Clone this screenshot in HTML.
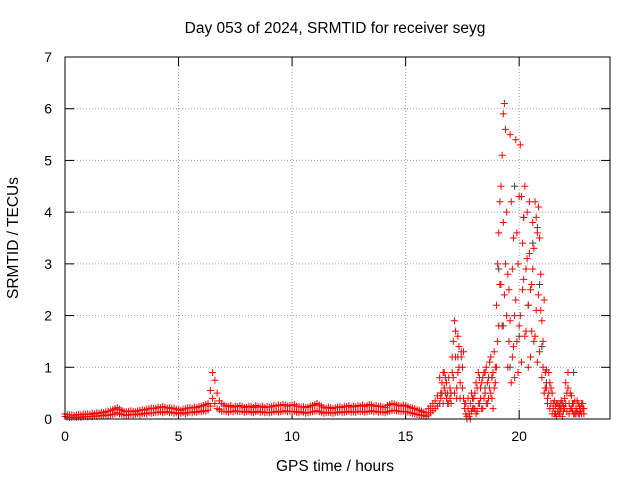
<!DOCTYPE html>
<html><head><meta charset="utf-8"><style>
body{margin:0;background:#fff;}
svg{display:block;font-family:"Liberation Sans",sans-serif;}
</style></head><body>
<svg id="c" width="640" height="480">
<rect x="0" y="0" width="640" height="480" fill="#fff"/>
<text x="335" y="33" text-anchor="middle" font-size="15.5">Day 053 of 2024, SRMTID for receiver seyg</text>
<text x="335" y="471" text-anchor="middle" font-size="15.5">GPS time / hours</text>
<text transform="translate(18,238) rotate(-90)" text-anchor="middle" font-size="15.5">SRMTID / TECUs</text>
<g id="grid"></g>
<g id="ticks"></g>
<g id="gray"></g>
<g id="red"></g>
<rect x="65" y="57" width="545" height="362" fill="none" stroke="#000" stroke-width="1"/>
</svg>
<script>
const xTicks=[0,5,10,15,20];
const yTicks=[0,1,2,3,4,5,6,7];
const baseT=[
0,0.1,0.2,0.3,0.4,0.5,0.6,0.7,0.8,0.9,
1,1.1,1.2,1.3,1.4,1.5,1.6,1.7,1.8,1.9,
2,2.1,2.2,2.3,2.4,2.5,2.6,2.7,2.8,2.9,
3,3.1,3.2,3.3,3.4,3.5,3.6,3.7,3.8,3.9,
4,4.1,4.2,4.3,4.4,4.5,4.6,4.7,4.8,4.9,
5,5.1,5.2,5.3,5.4,5.5,5.6,5.7,5.8,5.9,
6,6.1,6.2,6.3,6.4,6.5,6.6,6.7,6.8,6.9,
7,7.1,7.2,7.3,7.4,7.5,7.6,7.7,7.8,7.9,
8,8.1,8.2,8.3,8.4,8.5,8.6,8.7,8.8,8.9,
9,9.1,9.2,9.3,9.4,9.5,9.6,9.7,9.8,9.9,
10,10.1,10.2,10.3,10.4,10.5,10.6,10.7,10.8,10.9,
11,11.1,11.2,11.3,11.4,11.5,11.6,11.7,11.8,11.9,
12,12.1,12.2,12.3,12.4,12.5,12.6,12.7,12.8,12.9,
13,13.1,13.2,13.3,13.4,13.5,13.6,13.7,13.8,13.9,
14,14.1,14.2,14.3,14.4,14.5,14.6,14.7,14.8,14.9,
15,15.1,15.2,15.3,15.4,15.5,15.6,15.7,15.8,15.9,
16,16.1,16.2,16.3,16.4];
const baseLo=[
0.05,0.04,0.03,0.03,0.04,0.03,0.04,0.03,0.04,0.05,
0.04,0.05,0.04,0.06,0.05,0.06,0.07,0.06,0.08,0.07,
0.08,0.09,0.1,0.12,0.1,0.09,0.08,0.07,0.08,0.09,
0.08,0.09,0.1,0.08,0.1,0.11,0.1,0.12,0.11,0.12,
0.12,0.13,0.14,0.12,0.13,0.14,0.12,0.13,0.11,0.12,
0.1,0.11,0.12,0.1,0.12,0.13,0.12,0.14,0.13,0.15,
0.14,0.16,0.15,0.17,0.25,0.4,0.3,0.2,0.18,0.15,
0.15,0.14,0.13,0.15,0.14,0.16,0.15,0.14,0.15,0.13,
0.14,0.15,0.13,0.12,0.14,0.15,0.13,0.14,0.12,0.13,
0.12,0.13,0.14,0.15,0.13,0.14,0.15,0.16,0.14,0.15,
0.14,0.15,0.13,0.12,0.14,0.13,0.11,0.12,0.13,0.14,
0.15,0.16,0.14,0.13,0.11,0.12,0.13,0.12,0.11,0.12,
0.13,0.14,0.12,0.13,0.14,0.15,0.13,0.14,0.13,0.15,
0.14,0.15,0.13,0.14,0.15,0.16,0.14,0.15,0.13,0.14,
0.13,0.12,0.14,0.15,0.16,0.17,0.16,0.15,0.14,0.15,
0.14,0.13,0.12,0.11,0.1,0.09,0.08,0.07,0.06,0.05,
0.08,0.12,0.16,0.2,0.25];
const baseHi=[
0.1,0.09,0.08,0.08,0.07,0.08,0.09,0.08,0.1,0.09,
0.1,0.09,0.11,0.1,0.12,0.11,0.13,0.12,0.14,0.15,
0.16,0.18,0.2,0.22,0.19,0.17,0.15,0.14,0.15,0.16,
0.15,0.14,0.16,0.17,0.18,0.17,0.19,0.2,0.21,0.2,
0.21,0.23,0.22,0.24,0.23,0.21,0.22,0.2,0.21,0.19,
0.18,0.17,0.19,0.2,0.21,0.22,0.21,0.23,0.22,0.24,
0.25,0.26,0.28,0.3,0.55,0.9,0.75,0.5,0.35,0.3,
0.27,0.25,0.24,0.26,0.23,0.25,0.24,0.26,0.25,0.22,
0.23,0.25,0.24,0.22,0.26,0.24,0.23,0.25,0.22,0.24,
0.23,0.24,0.26,0.25,0.27,0.26,0.28,0.27,0.25,0.26,
0.27,0.28,0.25,0.24,0.23,0.24,0.22,0.23,0.25,0.26,
0.28,0.3,0.27,0.25,0.22,0.21,0.23,0.22,0.2,0.22,
0.23,0.24,0.22,0.25,0.24,0.26,0.23,0.25,0.24,0.26,
0.25,0.27,0.24,0.26,0.28,0.27,0.25,0.26,0.24,0.25,
0.23,0.22,0.26,0.28,0.3,0.29,0.27,0.26,0.25,0.27,
0.26,0.24,0.22,0.21,0.2,0.18,0.17,0.15,0.13,0.12,
0.2,0.25,0.3,0.35,0.45];
const stormT=[
16.5,16.55,16.6,16.65,16.7,16.75,16.8,16.85,16.9,16.95,
17.0,17.05,17.1,17.15,17.2,17.25,17.3,17.35,17.4,17.45,
17.5,17.55,17.6,17.65,17.7,17.75,17.8,17.85,17.9,17.95,
18.0,18.05,18.1,18.15,18.2,18.25,18.3,18.35,18.4,18.45,
18.5,18.55,18.6,18.65,18.7,18.75,18.8,18.85,18.9,18.95,
19.0,19.05,19.1,19.15,19.2,19.25,19.3,19.35,19.4,19.45,
19.5,19.55,19.6,19.65,19.7,19.75,19.8,19.85,19.9,19.95,
20.0,20.05,20.1,20.15,20.2,20.25,20.3,20.35,20.4,20.45,
20.5,20.55,20.6,20.65,20.7,20.75,20.8,20.85,20.9,20.95,
21.0,21.05,21.1,21.15,21.2,21.25,21.3,21.35,21.4,21.45,
21.5,21.55,21.6,21.65,21.7,21.75,21.8,21.85,21.9,21.95,
22.0,22.05,22.1,22.15,22.2,22.25,22.3,22.35,22.4,22.45,
22.5,22.55,22.6,22.65,22.7,22.75,22.8,22.85];
const stormV=[
0.3,0.5,0.7,0.9,0.6,0.8,0.4,0.5,0.3,0.6,
0.5,0.9,1.5,1.9,1.2,0.4,1.6,1.0,0.7,1.3,
0.6,1.3,0.3,0.1,0.0,0.2,0.05,0.3,0.15,0.4,
0.2,0.5,0.1,0.6,0.3,0.8,0.4,0.7,0.2,0.9,
0.5,1.0,0.3,0.8,0.6,1.2,0.4,0.9,1.3,0.7,
2.2,1.5,3.6,2.6,4.5,1.8,5.9,6.1,3.0,2.0,
1.0,2.5,5.5,4.2,1.2,3.5,0.8,2.3,1.5,3.0,
1.8,5.3,4.3,2.5,3.9,1.6,2.9,4.0,2.2,3.2,
1.2,2.6,3.8,1.5,4.2,2.1,3.6,2.4,1.3,2.8,
1.9,1.0,2.3,0.9,0.6,0.4,0.9,0.7,0.3,0.5,
0.2,0.35,0.1,0.3,0.15,0.25,0.1,0.2,0.3,0.15,
0.4,0.7,0.5,0.9,0.3,0.2,0.45,0.15,0.3,0.1,
0.2,0.35,0.1,0.25,0.15,0.3,0.2,0.1];
const stormV2=[
0.8,0.4,0.5,0.3,0.9,0.5,0.7,0.3,0.8,0.4,
0.3,1.2,0.8,0.5,1.7,0.6,0.9,1.4,0.4,1.2,
1.0,0.4,0.2,0.3,0.05,0.4,0.1,0.0,0.5,0.2,
0.4,0.2,0.7,0.15,0.9,0.3,0.6,0.2,0.8,0.4,
0.9,0.3,0.7,0.4,1.1,0.5,0.8,0.2,0.6,1.0,
1.0,3.0,1.8,4.2,2.6,5.1,3.8,2.4,5.6,4.0,
2.8,1.5,1.9,0.7,2.9,1.4,2.0,5.4,3.6,0.9,
4.3,2.0,1.1,3.4,2.7,4.5,1.7,3.1,1.0,4.2,
2.5,1.7,2.9,3.3,1.6,3.9,1.1,4.1,3.5,2.1,
0.8,1.5,0.5,0.6,0.95,0.3,0.5,0.2,0.6,0.1,
0.3,0.1,0.25,0.05,0.3,0.1,0.2,0.35,0.05,0.25,
0.2,0.3,0.15,0.6,0.1,0.5,0.2,0.3,0.1,0.35,
0.1,0.15,0.3,0.1,0.2,0.1,0.3,0.2];
const grayT=[16.7,17.0,17.3,18.5,18.8,19.1,19.3,19.6,19.8,20.0,20.2,20.4,20.6,20.8,20.9,21.0,21.2,21.8,22.4];
const grayV=[0.6,0.5,1.2,0.6,0.8,2.9,1.8,1.0,4.5,1.6,3.9,2.2,3.4,3.7,2.6,1.4,0.7,0.3,0.9];
const X=h=>65+h*545/24, Y=v=>419-v*362/7;
const NS="http://www.w3.org/2000/svg";
function mk(tag,attrs,parent){const e=document.createElementNS(NS,tag);for(const k in attrs)e.setAttribute(k,attrs[k]);parent.appendChild(e);return e;}
const grid=document.getElementById('grid'),ticks=document.getElementById('ticks'),svg=document.getElementById('c');
xTicks.forEach(t=>{const x=X(t);
 if(t>0){const g=mk('line',{x1:x,y1:57,x2:x,y2:419,stroke:'#a0a0a0','stroke-dasharray':'1,2'},grid);
 
 }
 mk('line',{x1:x,y1:419,x2:x,y2:410,stroke:'#000'},ticks);
 mk('line',{x1:x,y1:57,x2:x,y2:66,stroke:'#000'},ticks);
 const l=mk('text',{x:x,y:441,'text-anchor':'middle','font-size':'14'},svg);l.textContent=t;
 
 });
yTicks.forEach(t=>{const y=Y(t);
 if(t>0&&t<7){const g=mk('line',{x1:65,y1:y,x2:610,y2:y,stroke:'#a0a0a0','stroke-dasharray':'1,2'},grid);
 
 }
 mk('line',{x1:65,y1:y,x2:74,y2:y,stroke:'#000'},ticks);
 mk('line',{x1:610,y1:y,x2:601,y2:y,stroke:'#000'},ticks);
 const l=mk('text',{x:52,y:y+5,'text-anchor':'end','font-size':'14'},svg);l.textContent=t;
 
 });
function plot(T,V,g,col){let d='';T.forEach((t,i)=>{const x=X(t),y=Y(V[i]);d+=`M${x-3.5},${y}h7M${x},${y-3.5}v7`;});
 const p=mk('path',{d:d,stroke:col,'stroke-width':1,fill:'none'},g);
 
 }
plot(grayT,grayV,document.getElementById('gray'),'#404040');
const red=document.getElementById('red');
plot(baseT,baseLo,red,'#ff0000');
plot(baseT,baseHi,red,'#ff0000');
plot(stormT,stormV,red,'#ff0000');
plot(stormT,stormV2,red,'#ff0000');
</script>
</body></html>
